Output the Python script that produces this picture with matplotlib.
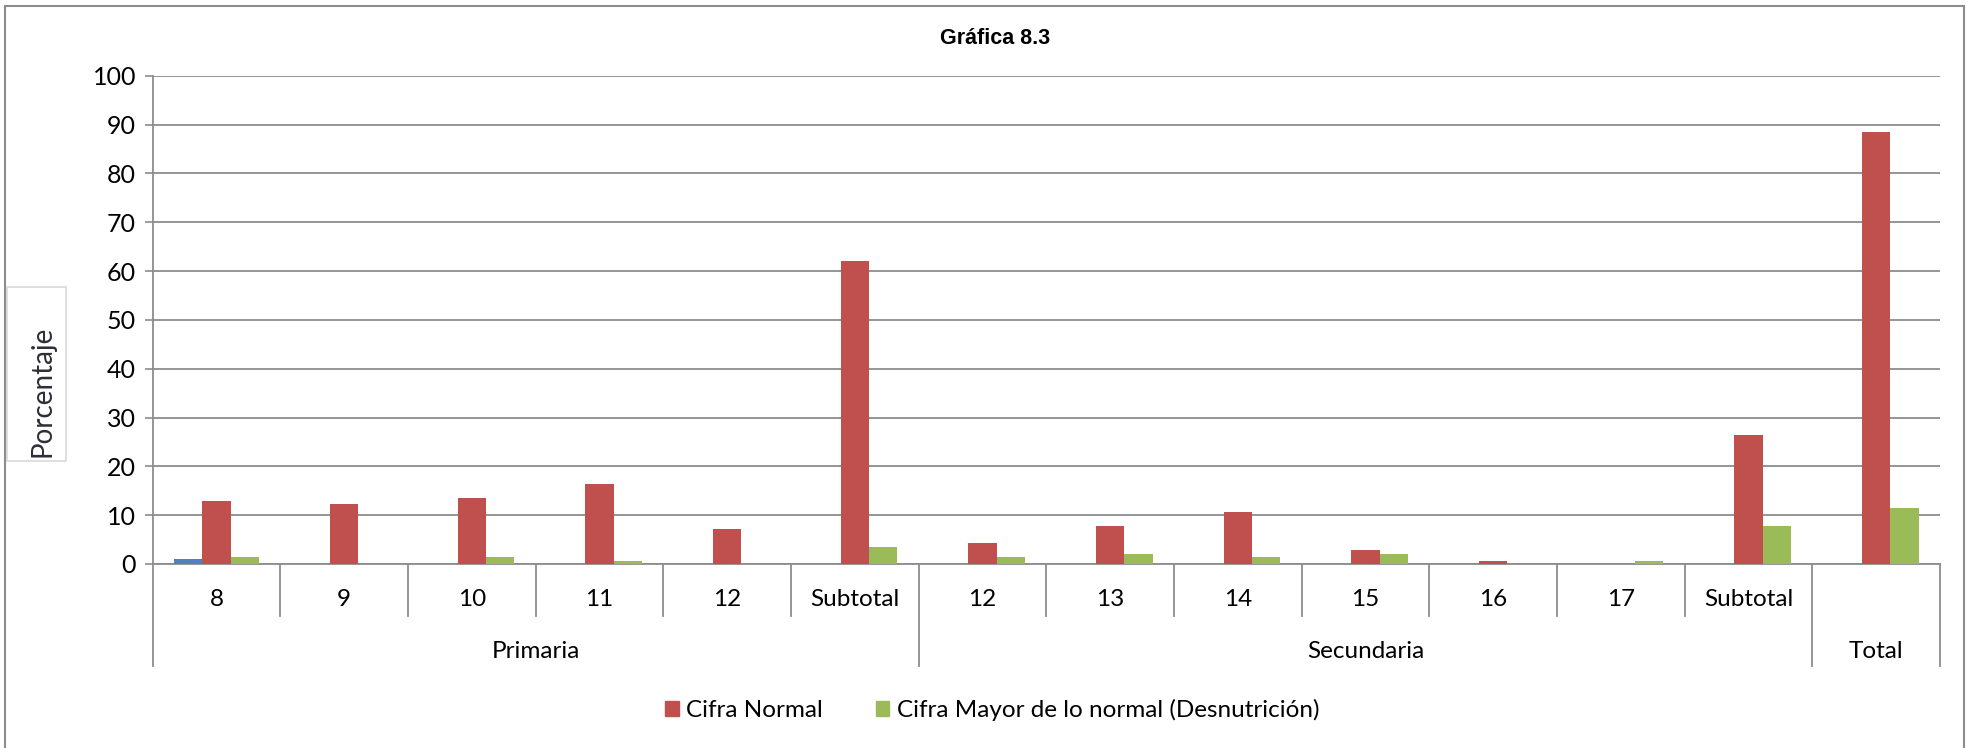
import numpy as np
import matplotlib
matplotlib.use("Agg")
import matplotlib.pyplot as plt
from matplotlib.patches import Rectangle, Patch
from matplotlib.transforms import blended_transform_factory

# data
categorias = ["8", "9", "10", "11", "12", "Subtotal",
              "12", "13", "14", "15", "16", "17", "Subtotal", ""]
grupos = ["Primaria", "Secundaria", "Total"]
grupo_tam = [6, 7, 1]
menor = [1.0, 0, 0, 0, 0, 0, 0, 0, 0, 0, 0, 0, 0, 0]
normal = [12.8, 12.3, 13.5, 16.3, 7.1, 62.0, 4.3, 7.8, 10.6, 2.9, 0.6, 0, 26.4, 88.5]
mayor = [1.4, 0, 1.4, 0.6, 0, 3.5, 1.4, 2.0, 1.4, 2.0, 0, 0.6, 7.8, 11.4]
yticks = list(range(0, 101, 10))

plt.rcParams['font.family'] = ['Lato', 'DejaVu Sans']
GRID = "#8c8c8c"
AZUL, ROJO, VERDE = "#4f81bd", "#c0504d", "#9bbb59"

fig = plt.figure(figsize=(19.78, 7.48), dpi=100)
ax = fig.add_axes([0.0772, 0.246, 0.9036, 0.6528])

x = np.arange(len(categorias))
w = 1 / 4.5
ax.bar(x - w, menor, w, color=AZUL, zorder=3)
ax.bar(x, normal, w, color=ROJO, zorder=3)
ax.bar(x + w, mayor, w, color=VERDE, zorder=3)

ax.set_xlim(-0.5, len(categorias) - 0.5)
ax.set_ylim(0, 100)
ax.set_yticks(yticks)
ax.tick_params(axis="y", labelsize=18, length=6, width=1.2, color=GRID, pad=6)
ax.set_xticks([])
ax.yaxis.grid(True, color=GRID, lw=1.3, zorder=0)
for s in ["top", "right"]:
    ax.spines[s].set_visible(False)
for s in ["left", "bottom"]:
    ax.spines[s].set_color(GRID)
    ax.spines[s].set_linewidth(1.3)

# multi-level category axis
tr = blended_transform_factory(ax.transData, ax.transAxes)
lvl1, lvl2 = -0.1065, -0.209
fronteras = np.cumsum([0] + grupo_tam) - 0.5
for b in np.arange(len(categorias) + 1) - 0.5:
    bottom = lvl2 if b in fronteras else lvl1
    ax.plot([b, b], [0, bottom], transform=tr, color=GRID, lw=1.3, clip_on=False)
for i, lab in enumerate(categorias):
    ax.text(i, -0.0717, lab, transform=tr, ha="center", va="center", fontsize=17.5)
for g, a, b in zip(grupos, fronteras[:-1], fronteras[1:]):
    ax.text((a + b) / 2, -0.18, g, transform=tr, ha="center", va="center", fontsize=17.5)

# title, y label box, outer frame
fig.text(0.503, 0.949, "Gráfica 8.3", ha="center", va="center",
         fontsize=15.5, fontweight="bold", family="Liberation Sans")
fig.patches.append(Rectangle((7 / 1978, 1 - 461 / 748), 59 / 1978, 174 / 748,
                             transform=fig.transFigure, fill=False, ec="#d9d9d9", lw=1.2))
fig.text(42 / 1978, 1 - 391 / 748, "Porcentaje", rotation=90, ha="center", va="center",
         fontsize=20, color="#2e2e38")
fig.patches.append(Rectangle((5 / 1978, -0.02), 1959 / 1978, 1.02 - 6 / 748,
                             transform=fig.transFigure, fill=False, ec=GRID, lw=1.5))

handles = [Patch(color=ROJO, label="Cifra Normal"),
           Patch(color=VERDE, label="Cifra Mayor de lo normal (Desnutrición)")]
fig.legend(handles=handles, loc="center", bbox_to_anchor=(0.5016, 0.051), ncol=2,
           frameon=False, fontsize=17.5, handlelength=0.55, handleheight=0.55,
           handletextpad=0.3, columnspacing=2.2)

fig.savefig("out.png", dpi=100)
